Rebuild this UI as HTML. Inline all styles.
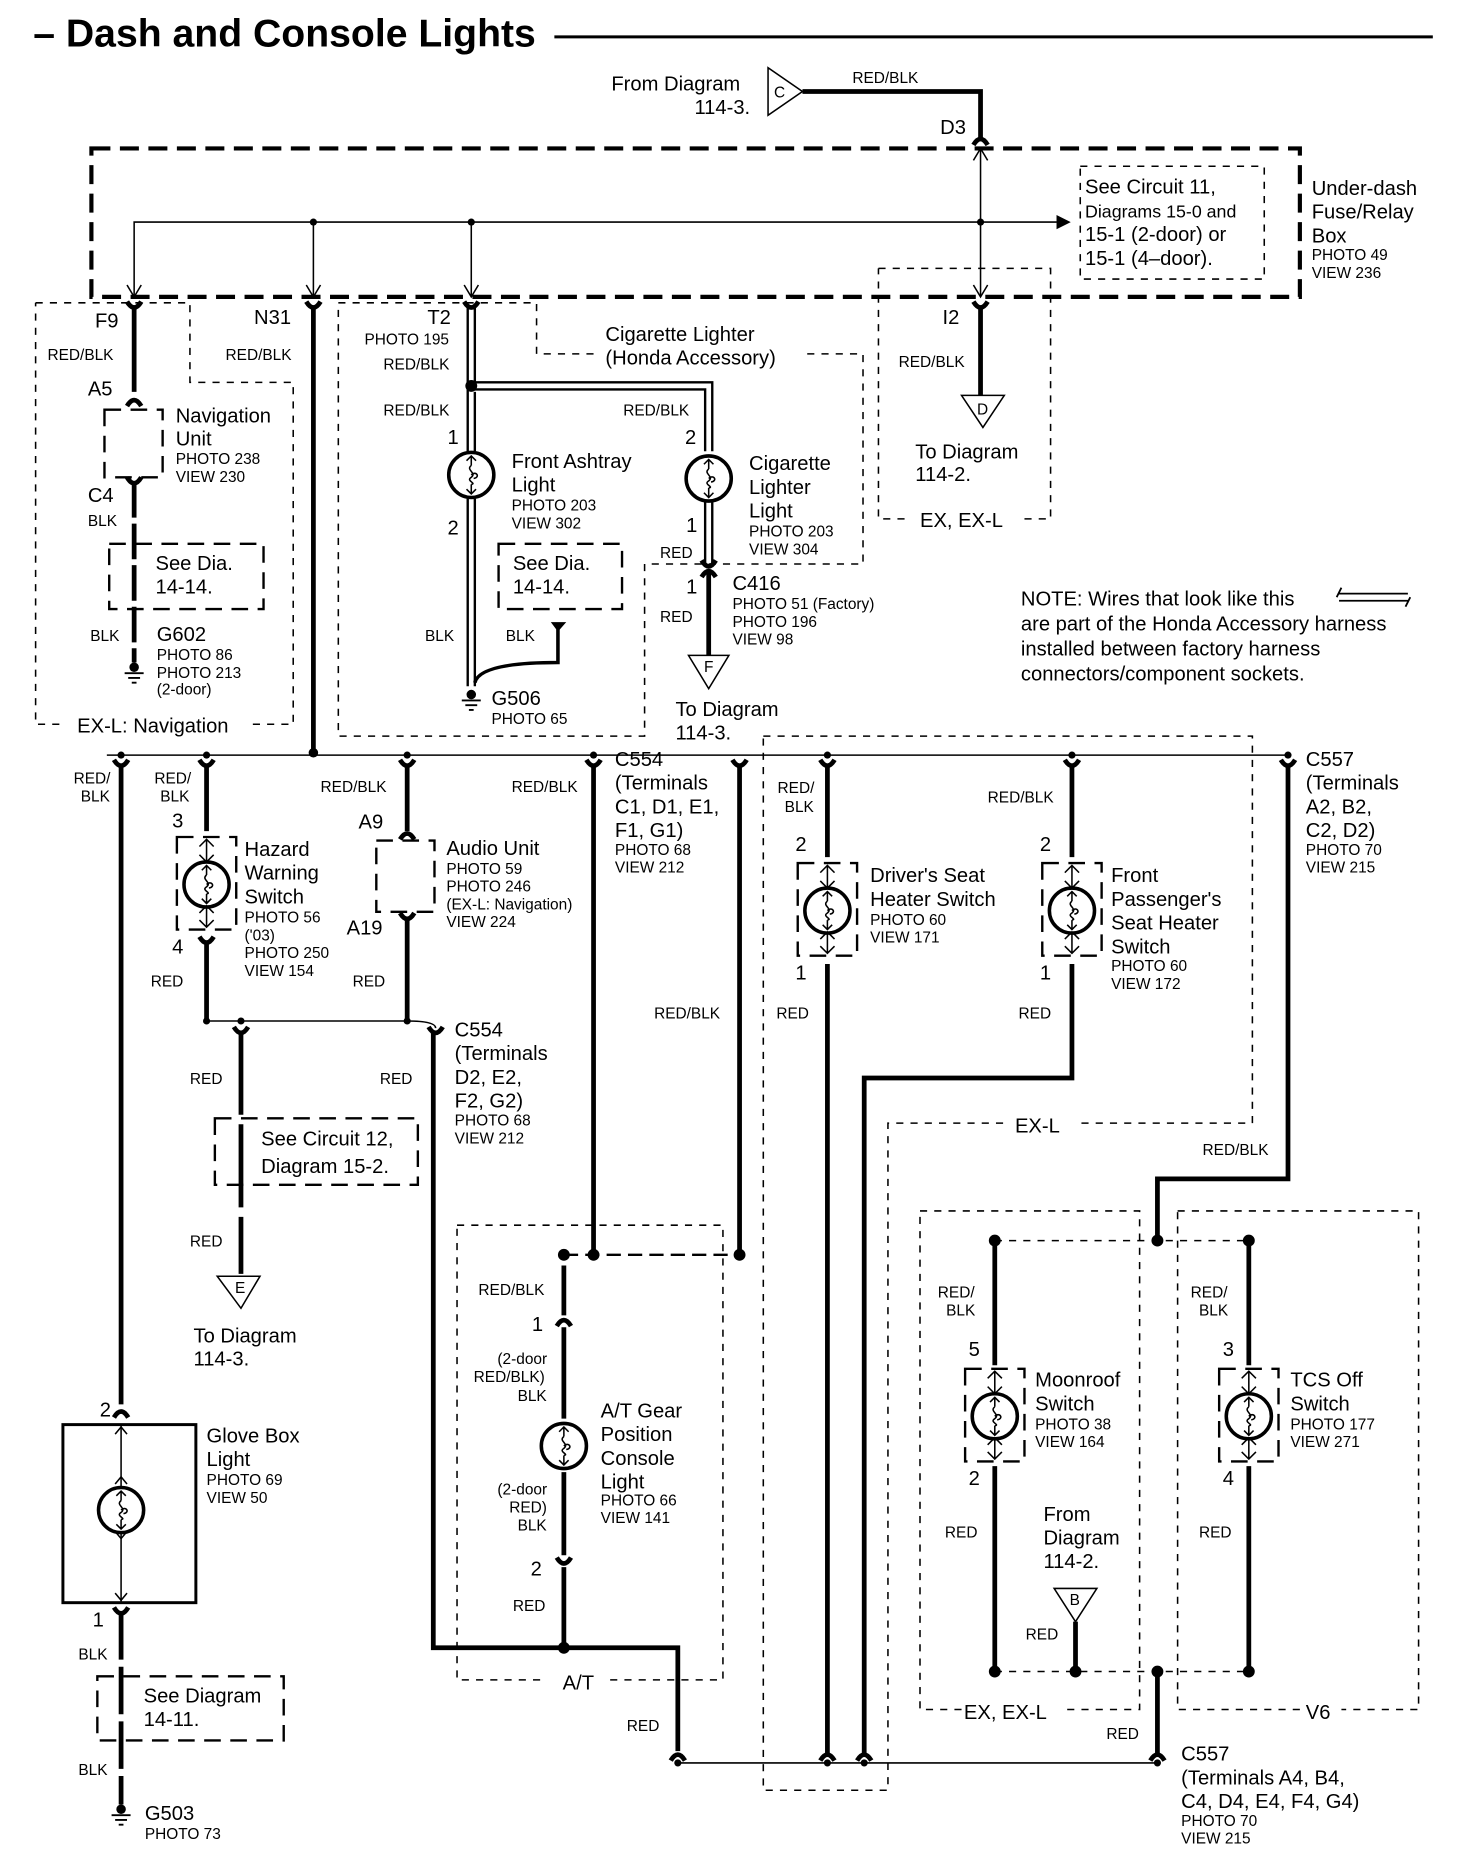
<!DOCTYPE html>
<html><head><meta charset="utf-8"><style>
html,body{margin:0;padding:0;background:#fff}
svg{display:block}
text{font-family:"Liberation Sans",Arial,sans-serif;fill:#000}
.t{font-size:17px}.s{font-size:13px}.m{font-size:14px}
.w{stroke:#000;stroke-width:4;fill:none}
.n{stroke:#000;stroke-width:1.3;fill:none}
.d{stroke:#000;stroke-width:1.3;fill:none;stroke-dasharray:6,6}
.D{stroke:#000;stroke-width:3.5;fill:none;stroke-dasharray:16,8}
.b{stroke:#000;stroke-width:2;fill:none;stroke-dasharray:14,8}
</style></head><body>
<svg width="1472" height="1858" viewBox="0 0 1240 1565" xmlns="http://www.w3.org/2000/svg">
<defs>
<g id="bulb"><circle r="19" fill="#fff" stroke="#000" stroke-width="3"/><path d="M0,-16 L0,-8 M-4,-12 L0,-16 L4,-12 M0,16 L0,8 M-4,12 L0,16 L4,12" class="n"/><path d="M0,-8 C-5,-4 5,-2 0,2 C-5,5 5,7 0,8 M0,0 C4,-4 8,2 2,3" class="n" stroke-width="1.5"/></g>
<g id="sw"><rect x="-25" y="-40" width="50" height="78" class="b" fill="#fff"/><use href="#bulb"/><path d="M0,-38 L0,-20 M-6,-32 L0,-38 L6,-32 M-6,-25 L0,-19 L6,-25 M0,36 L0,20 M-6,30 L0,36 L6,30 M-6,24 L0,18 L6,24" class="n"/></g>
<g id="cu"><path d="M-6,4 Q0,-6 6,4" stroke="#000" stroke-width="4" fill="none"/></g>
<g id="cd"><path d="M-6,-4 Q0,6 6,-4" stroke="#000" stroke-width="4" fill="none"/></g>
<g id="gnd"><circle cy="-3" r="4"/><path d="M-8,2 H8 M-5,6 H5 M-2,10 H2" stroke="#000" stroke-width="1.6"/></g>
</defs>

<!-- Title -->
<text x="28" y="39" font-size="33" font-weight="bold">– Dash and Console Lights</text>
<line x1="467" y1="31" x2="1207" y2="31" stroke="#000" stroke-width="2.5"/>

<!-- From Diagram C -->
<text x="515" y="76" class="t">From Diagram</text>
<text x="585" y="96" class="t">114-3.</text>
<path d="M647,57 L647,97 L676,77 Z" class="n"/>
<text x="652" y="82" class="s">C</text>
<path d="M676,77 H826 V118" class="w"/>
<text x="718" y="70" class="s">RED/BLK</text>
<text x="792" y="113" class="t">D3</text>
<use href="#cu" x="826" y="118"/>

<!-- Fuse box -->
<rect x="77" y="125" width="1018" height="125" class="D"/>
<path d="M113,250 V187 H890" class="n"/>
<path d="M890,181 L902,187 L890,193 Z"/>
<path d="M264,187 V250 M397,187 V250 M826,125 V250" class="n"/>
<circle cx="264" cy="187" r="3"/><circle cx="397" cy="187" r="3"/><circle cx="826" cy="187" r="3"/>
<path d="M107,240 L113,250 L119,240 M258,240 L264,250 L270,240 M391,240 L397,250 L403,240 M820,240 L826,250 L832,240 M820,135 L826,125 L832,135" class="n"/>
<rect x="910" y="140" width="155" height="95" class="d" stroke-dasharray="18,10"/>
<text x="914" y="163" class="t">See Circuit 11,</text>
<text x="914" y="183" style="font-size:15px">Diagrams 15-0 and</text>
<text x="914" y="203" class="t">15-1 (2-door) or</text>
<text x="914" y="223" class="t">15-1 (4–door).</text>
<text x="1105" y="164" class="t">Under-dash</text>
<text x="1105" y="184" class="t">Fuse/Relay</text>
<text x="1105" y="204" class="t">Box</text>
<text x="1105" y="219" class="s">PHOTO 49</text>
<text x="1105" y="234" class="s">VIEW 236</text>

<!-- Navigation region -->
<path d="M30,255 H160 V322 H247 V610 H210 M50,610 H30 V255" class="d"/>
<text x="65" y="617" class="t">EX-L: Navigation</text>
<use href="#cd" x="113" y="258"/>
<path d="M113,258 V330" class="w"/>
<text x="80" y="276" class="t">F9</text>
<text x="40" y="303" class="s">RED/BLK</text>
<text x="74" y="333" class="t">A5</text>
<use href="#cu" x="113" y="338"/>
<rect x="88" y="345" width="49" height="57" class="b"/>
<text x="148" y="356" class="t">Navigation</text>
<text x="148" y="375" class="t">Unit</text>
<text x="148" y="391" class="s">PHOTO 238</text>
<text x="148" y="406" class="s">VIEW 230</text>
<use href="#cd" x="113" y="406"/>
<text x="74" y="423" class="t">C4</text>
<text x="74" y="443" class="s">BLK</text>
<path d="M113,406 V558" stroke="#000" stroke-width="4" stroke-dasharray="30,5"/>
<rect x="92" y="458" width="130" height="55" class="b" stroke-width="1.5"/>
<text x="131" y="480" class="t">See Dia.</text>
<text x="131" y="500" class="t">14-14.</text>
<text x="76" y="540" class="s">BLK</text>
<use href="#gnd" x="113" y="565"/>
<text x="132" y="540" class="t">G602</text>
<text x="132" y="556" class="s">PHOTO 86</text>
<text x="132" y="571" class="s">PHOTO 213</text>
<text x="132" y="585" class="s">(2-door)</text>

<!-- N31 -->
<use href="#cd" x="264" y="258"/>
<path d="M264,258 V632" class="w"/>
<text x="214" y="273" class="t">N31</text>
<text x="190" y="303" class="s">RED/BLK</text>

<!-- Cigarette region -->
<path d="M285,255 H452 V298 H500 M680,298 H727 V475 H543 V620 H285 V255" class="d"/>
<text x="510" y="287" class="t">Cigarette Lighter</text>
<text x="510" y="307" class="t">(Honda Accessory)</text>
<text x="360" y="273" class="t">T2</text>
<text x="307" y="290" class="s">PHOTO 195</text>
<text x="323" y="311" class="s">RED/BLK</text>
<use href="#cd" x="397" y="258"/>
<path d="M394,258 V380 M400,258 V325" stroke="#000" stroke-width="2" fill="none"/>
<path d="M397,322 H600 V380 M400,328 H594 V380" stroke="#000" stroke-width="2" fill="none"/>
<path d="M400,330 V380" stroke="#000" stroke-width="2"/>
<circle cx="397" cy="325" r="5"/>
<text x="323" y="350" class="s">RED/BLK</text>
<text x="525" y="350" class="s">RED/BLK</text>
<text x="377" y="374" class="t">1</text>
<text x="577" y="374" class="t">2</text>
<use href="#bulb" x="397" y="400"/>
<use href="#bulb" x="597" y="403"/>
<text x="431" y="394" class="t">Front Ashtray</text>
<text x="431" y="414" class="t">Light</text>
<text x="431" y="430" class="s">PHOTO 203</text>
<text x="431" y="445" class="s">VIEW 302</text>
<text x="631" y="396" class="t">Cigarette</text>
<text x="631" y="416" class="t">Lighter</text>
<text x="631" y="436" class="t">Light</text>
<text x="631" y="452" class="s">PHOTO 203</text>
<text x="631" y="467" class="s">VIEW 304</text>
<text x="377" y="450" class="t">2</text>
<path d="M394,420 V578 M400,420 V578" stroke="#000" stroke-width="2"/>
<rect x="420" y="458" width="104" height="55" class="b" stroke-width="1.5"/>
<text x="432" y="480" class="t">See Dia.</text>
<text x="432" y="500" class="t">14-14.</text>
<text x="358" y="540" class="s">BLK</text>
<text x="426" y="540" class="s">BLK</text>
<path d="M400,575 Q404,558 470,558 V530" stroke="#000" stroke-width="3" fill="none"/>
<path d="M464,524 H477 L470,532 Z"/>
<use href="#gnd" x="397" y="588"/>
<text x="414" y="594" class="t">G506</text>
<text x="414" y="610" class="s">PHOTO 65</text>
<text x="578" y="448" class="t">1</text>
<path d="M594,422 V476 M600,422 V476" stroke="#000" stroke-width="2"/>
<use href="#cd" x="597" y="476"/><use href="#cu" x="597" y="482"/>
<text x="556" y="470" class="s">RED</text>
<text x="578" y="500" class="t">1</text>
<text x="556" y="524" class="s">RED</text>
<path d="M597,482 V552" class="w"/>
<path d="M580,552 H614 L597,580 Z" class="n"/>
<text x="593" y="566" class="s">F</text>
<text x="617" y="497" class="t">C416</text>
<text x="617" y="513" class="s">PHOTO 51 (Factory)</text>
<text x="617" y="528" class="s">PHOTO 196</text>
<text x="617" y="543" class="s">VIEW 98</text>
<text x="569" y="603" class="t">To Diagram</text>
<text x="569" y="623" class="t">114-3.</text>

<!-- I2 -->
<path d="M740,226 H885 V437 H860 M762,437 H740 V226" class="d"/>
<text x="775" y="444" class="t">EX, EX-L</text>
<use href="#cd" x="826" y="258"/>
<path d="M826,258 V333" class="w"/>
<text x="794" y="273" class="t">I2</text>
<text x="757" y="309" class="s">RED/BLK</text>
<path d="M810,333 H846 L828,360 Z" class="n"/>
<text x="823" y="349" class="s">D</text>
<text x="771" y="386" class="t">To Diagram</text>
<text x="771" y="405" class="t">114-2.</text>

<!-- NOTE -->
<text x="860" y="510" class="t">NOTE: Wires that look like this</text>
<path d="M1128,500 H1186 M1128,506 H1186 M1130,495 L1126,503 M1184,511 L1188,503" stroke="#000" stroke-width="1.5" fill="none"/>
<text x="860" y="531" class="t">are part of the Honda Accessory harness</text>
<text x="860" y="552" class="t">installed between factory harness</text>
<text x="860" y="573" class="t">connectors/component sockets.</text>

<!-- main bus -->
<path d="M90,636 H1085" class="n"/>
<circle cx="264" cy="634" r="4"/>
<g>
<use href="#cd" x="102" y="644"/><use href="#cd" x="174" y="644"/><use href="#cd" x="343" y="644"/>
<use href="#cd" x="500" y="644"/><use href="#cd" x="623" y="644"/><use href="#cd" x="697" y="644"/>
<use href="#cd" x="903" y="644"/><use href="#cd" x="1085" y="644"/>
</g>
<circle cx="102" cy="636" r="3"/><circle cx="174" cy="636" r="3"/><circle cx="343" cy="636" r="3"/><circle cx="500" cy="636" r="3"/><circle cx="697" cy="636" r="3"/><circle cx="903" cy="636" r="3"/><circle cx="1085" cy="636" r="3"/>
<text x="62" y="660" class="s">RED/</text><text x="68" y="675" class="s">BLK</text>
<text x="130" y="660" class="s">RED/</text><text x="135" y="675" class="s">BLK</text>
<text x="270" y="667" class="s">RED/BLK</text>
<text x="431" y="667" class="s">RED/BLK</text>
<text x="655" y="668" class="s">RED/</text><text x="661" y="684" class="s">BLK</text>
<text x="832" y="676" class="s">RED/BLK</text>

<!-- glove box line -->
<path d="M102,644 V1183" class="w"/>
<text x="84" y="1193" class="t">2</text>
<use href="#cu" x="102" y="1190"/>
<rect x="53" y="1200" width="112" height="150" stroke="#000" stroke-width="2.5" fill="none"/>
<path d="M102,1200 V1350" class="n"/>
<path d="M97,1208 L102,1202 L107,1208 M97,1342 L102,1348 L107,1342 M97,1250 L102,1244 L107,1250 M97,1290 L102,1296 L107,1290" class="n"/>
<use href="#bulb" x="102" y="1272"/>
<text x="174" y="1215" class="t">Glove Box</text>
<text x="174" y="1235" class="t">Light</text>
<text x="174" y="1251" class="s">PHOTO 69</text>
<text x="174" y="1266" class="s">VIEW 50</text>
<text x="78" y="1370" class="t">1</text>
<use href="#cd" x="102" y="1358"/>
<path d="M102,1358 V1520" stroke="#000" stroke-width="4" stroke-dasharray="40,6"/>
<text x="66" y="1398" class="s">BLK</text>
<rect x="82" y="1412" width="157" height="54" class="b" stroke-width="1.5"/>
<text x="121" y="1434" class="t">See Diagram</text>
<text x="121" y="1454" class="t">14-11.</text>
<text x="66" y="1495" class="s">BLK</text>
<use href="#gnd" x="102" y="1527"/>
<text x="122" y="1533" class="t">G503</text>
<text x="122" y="1549" class="s">PHOTO 73</text>

<!-- Hazard -->
<text x="145" y="697" class="t">3</text>
<path d="M174,644 V700" class="w"/>
<use href="#sw" x="174" y="745"/>
<text x="206" y="721" class="t">Hazard</text>
<text x="206" y="741" class="t">Warning</text>
<text x="206" y="761" class="t">Switch</text>
<text x="206" y="777" class="s">PHOTO 56</text>
<text x="206" y="792" class="s">('03)</text>
<text x="206" y="807" class="s">PHOTO 250</text>
<text x="206" y="822" class="s">VIEW 154</text>
<text x="145" y="803" class="t">4</text>
<use href="#cd" x="174" y="793"/>
<path d="M174,793 V860" class="w"/>
<text x="127" y="831" class="s">RED</text>

<!-- Audio -->
<text x="302" y="698" class="t">A9</text>
<path d="M343,644 V700" class="w"/>
<use href="#cu" x="343" y="703"/>
<rect x="317" y="708" width="49" height="60" class="b"/>
<text x="376" y="720" class="t">Audio Unit</text>
<text x="376" y="736" class="s">PHOTO 59</text>
<text x="376" y="751" class="s">PHOTO 246</text>
<text x="376" y="766" class="s">(EX-L: Navigation)</text>
<text x="376" y="781" class="s">VIEW 224</text>
<text x="292" y="787" class="t">A19</text>
<use href="#cd" x="343" y="773"/>
<path d="M343,773 V860" class="w"/>
<text x="297" y="831" class="s">RED</text>

<path d="M174,860 H343" class="n"/>
<circle cx="174" cy="860" r="3"/><circle cx="203" cy="860" r="3"/><circle cx="343" cy="860" r="3"/>
<use href="#cd" x="203" y="869"/><use href="#cd" x="367" y="869"/>
<path d="M343,860 Q367,860 367,866" class="n"/>
<text x="383" y="873" class="t">C554</text>
<text x="383" y="893" class="t">(Terminals</text>
<text x="383" y="913" class="t">D2, E2,</text>
<text x="383" y="933" class="t">F2, G2)</text>
<text x="383" y="948" class="s">PHOTO 68</text>
<text x="383" y="963" class="s">VIEW 212</text>
<path d="M203,869 V1073" stroke="#000" stroke-width="4" stroke-dasharray="70,8"/>
<text x="160" y="913" class="s">RED</text>
<text x="320" y="913" class="s">RED</text>
<rect x="181" y="942" width="171" height="56" class="b" stroke-width="1.5"/>
<text x="220" y="965" class="t">See Circuit 12,</text>
<text x="220" y="988" class="t">Diagram 15-2.</text>
<text x="160" y="1050" class="s">RED</text>
<path d="M183,1075 H219 L203,1102 Z" class="n"/>
<text x="198" y="1089" class="s">E</text>
<text x="163" y="1131" class="t">To Diagram</text>
<text x="163" y="1150" class="t">114-3.</text>

<path d="M365,869 V1388 H475 H571 V1475" class="w"/>
<use href="#cu" x="571" y="1479"/>
<text x="528" y="1458" class="s">RED</text>

<!-- C554 top -->
<text x="518" y="645" class="t">C554</text>
<text x="518" y="665" class="t">(Terminals</text>
<text x="518" y="685" class="t">C1, D1, E1,</text>
<text x="518" y="705" class="t">F1, G1)</text>
<text x="518" y="720" class="s">PHOTO 68</text>
<text x="518" y="735" class="s">VIEW 212</text>
<path d="M500,644 V1057 M623,644 V1057" class="w"/>
<text x="551" y="858" class="s">RED/BLK</text>

<!-- A/T -->
<path d="M385,1032 H609 V1415 H510 M455,1415 H385 V1032" class="d"/>
<text x="474" y="1423" class="t">A/T</text>
<path d="M475,1057 H623" stroke="#000" stroke-width="2" stroke-dasharray="12,6"/>
<circle cx="475" cy="1057" r="5"/><circle cx="500" cy="1057" r="5"/><circle cx="623" cy="1057" r="5"/>
<path d="M475,1066 V1108 M475,1118 V1195 M475,1240 V1310 M475,1320 V1388" class="w"/>
<use href="#cu" x="475" y="1113"/><use href="#cd" x="475" y="1316"/>
<text x="403" y="1091" class="s">RED/BLK</text>
<text x="448" y="1121" class="t">1</text>
<text x="419" y="1149" class="s">(2-door</text>
<text x="399" y="1164" class="s">RED/BLK)</text>
<text x="436" y="1180" class="s">BLK</text>
<use href="#bulb" x="475" y="1218"/>
<text x="506" y="1194" class="t">A/T Gear</text>
<text x="506" y="1214" class="t">Position</text>
<text x="506" y="1234" class="t">Console</text>
<text x="506" y="1254" class="t">Light</text>
<text x="506" y="1268" class="s">PHOTO 66</text>
<text x="506" y="1283" class="s">VIEW 141</text>
<text x="419" y="1259" class="s">(2-door</text>
<text x="429" y="1274" class="s">RED)</text>
<text x="436" y="1289" class="s">BLK</text>
<text x="447" y="1327" class="t">2</text>
<text x="432" y="1357" class="s">RED</text>
<circle cx="475" cy="1388" r="5"/>

<!-- bottom bus -->
<path d="M571,1485 H975" class="n"/>
<circle cx="571" cy="1485" r="3"/><circle cx="697" cy="1485" r="3"/><circle cx="728" cy="1485" r="3"/><circle cx="975" cy="1485" r="3"/>

<!-- EX-L region -->
<path d="M643,620 H1055 V946 H905 M845,946 H748 V1508 H643 V620" class="d"/>
<text x="855" y="954" class="t">EX-L</text>

<!-- Driver seat -->
<path d="M697,644 V722" class="w"/>
<text x="670" y="717" class="t">2</text>
<use href="#sw" x="697" y="767"/>
<text x="733" y="743" class="t">Driver's Seat</text>
<text x="733" y="763" class="t">Heater Switch</text>
<text x="733" y="779" class="s">PHOTO 60</text>
<text x="733" y="794" class="s">VIEW 171</text>
<text x="670" y="825" class="t">1</text>
<path d="M697,812 V1478" class="w"/>
<use href="#cu" x="697" y="1479"/>
<text x="654" y="858" class="s">RED</text>

<!-- Passenger -->
<path d="M903,644 V722" class="w"/>
<text x="876" y="717" class="t">2</text>
<use href="#sw" x="903" y="767"/>
<text x="936" y="743" class="t">Front</text>
<text x="936" y="763" class="t">Passenger's</text>
<text x="936" y="783" class="t">Seat Heater</text>
<text x="936" y="803" class="t">Switch</text>
<text x="936" y="818" class="s">PHOTO 60</text>
<text x="936" y="833" class="s">VIEW 172</text>
<text x="876" y="825" class="t">1</text>
<path d="M903,812 V908 H728 V1478" class="w"/>
<use href="#cu" x="728" y="1479"/>
<text x="858" y="858" class="s">RED</text>

<!-- C557 top -->
<text x="1100" y="645" class="t">C557</text>
<text x="1100" y="665" class="t">(Terminals</text>
<text x="1100" y="685" class="t">A2, B2,</text>
<text x="1100" y="705" class="t">C2, D2)</text>
<text x="1100" y="720" class="s">PHOTO 70</text>
<text x="1100" y="735" class="s">VIEW 215</text>
<path d="M1085,644 V993 H975 V1045" class="w"/>
<text x="1013" y="973" class="s">RED/BLK</text>

<!-- Moonroof / TCS -->
<path d="M775,1020 H960 V1440 H895 M810,1440 H775 V1020" class="d"/>
<text x="812" y="1448" class="t">EX, EX-L</text>
<path d="M992,1020 H1195 V1440 H1130 M1095,1440 H992 V1020" class="d"/>
<text x="1100" y="1448" class="t">V6</text>
<path d="M838,1045 H1052 M838,1408 H1052" class="d" stroke-dasharray="10,5"/>
<circle cx="838" cy="1045" r="5"/><circle cx="975" cy="1045" r="5"/><circle cx="1052" cy="1045" r="5"/>
<circle cx="838" cy="1408" r="5"/><circle cx="906" cy="1408" r="5"/><circle cx="975" cy="1408" r="5"/><circle cx="1052" cy="1408" r="5"/>
<path d="M838,1045 V1150 M838,1235 V1408 M1052,1045 V1150 M1052,1235 V1408 M975,1408 V1478" class="w"/>
<use href="#cu" x="975" y="1479"/>
<use href="#sw" x="838" y="1193"/>
<use href="#sw" x="1052" y="1193"/>
<text x="790" y="1093" class="s">RED/</text><text x="797" y="1108" class="s">BLK</text>
<text x="1003" y="1093" class="s">RED/</text><text x="1010" y="1108" class="s">BLK</text>
<text x="816" y="1142" class="t">5</text>
<text x="816" y="1251" class="t">2</text>
<text x="1030" y="1142" class="t">3</text>
<text x="1030" y="1251" class="t">4</text>
<text x="872" y="1168" class="t">Moonroof</text>
<text x="872" y="1188" class="t">Switch</text>
<text x="872" y="1204" class="s">PHOTO 38</text>
<text x="872" y="1219" class="s">VIEW 164</text>
<text x="1087" y="1168" class="t">TCS Off</text>
<text x="1087" y="1188" class="t">Switch</text>
<text x="1087" y="1204" class="s">PHOTO 177</text>
<text x="1087" y="1219" class="s">VIEW 271</text>
<text x="796" y="1295" class="s">RED</text>
<text x="1010" y="1295" class="s">RED</text>
<text x="879" y="1281" class="t">From</text>
<text x="879" y="1301" class="t">Diagram</text>
<text x="879" y="1321" class="t">114-2.</text>
<path d="M888,1338 H924 L906,1366 Z" class="n"/>
<text x="901" y="1352" class="s">B</text>
<path d="M906,1366 V1408" class="w"/>
<text x="864" y="1381" class="s">RED</text>
<text x="932" y="1465" class="s">RED</text>
<text x="995" y="1483" class="t">C557</text>
<text x="995" y="1503" class="t">(Terminals A4, B4,</text>
<text x="995" y="1523" class="t">C4, D4, E4, F4, G4)</text>
<text x="995" y="1538" class="s">PHOTO 70</text>
<text x="995" y="1553" class="s">VIEW 215</text>
</svg>
</body></html>
